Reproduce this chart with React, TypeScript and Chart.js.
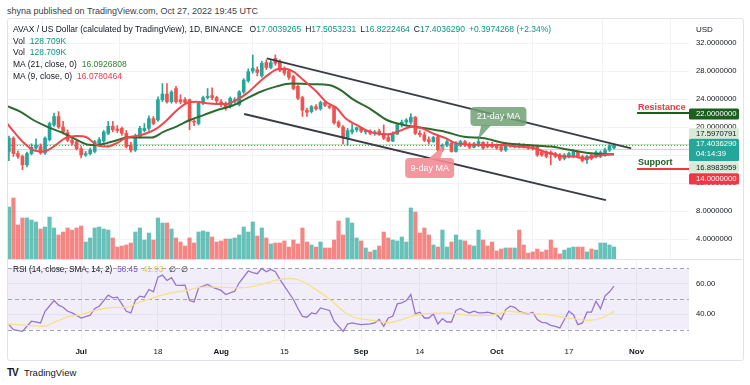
import React, { useEffect, useRef } from 'react';
import { Chart, registerables } from 'chart.js';

Chart.register(...registerables);

const FONT = '"Liberation Sans", Arial, sans-serif';

// ---------------- data ----------------
// day index: Jul 1, 2022 = 0. First candle = Jun 15, 2022
const firstDay = -16;

const opens = [
  16.5, 18.4, 16.2, 15.8, 14.6, 16.2, 17.0, 17.2, 16.3, 18.2, 20.3, 21.5, 20.0, 19.2, 18.1, 17.9,
  16.9, 16.0, 16.2, 16.5, 17.5, 18.0, 19.1, 20.1, 19.7, 19.8, 19.1, 17.4, 16.7, 18.6, 19.5, 19.8,
  21.2, 21.0, 23.9, 24.7, 23.6, 25.5, 23.9, 23.9, 23.9, 20.8, 20.5, 23.4, 24.2, 24.5, 24.2, 23.6,
  23.4, 22.9, 23.6, 23.2, 25.0, 26.6, 28.0, 28.2, 27.3, 29.2, 28.5, 29.8, 29.3, 28.4, 28.0, 27.2,
  25.8, 24.2, 22.4, 22.2, 22.9, 22.6, 23.5, 23.0, 22.9, 20.7, 20.0, 18.4, 19.3, 19.6, 19.9, 19.3,
  19.4, 19.1, 19.4, 19.1, 18.5, 18.0, 19.0, 20.3, 20.7, 20.7, 21.4, 19.1, 18.9, 18.2, 17.9, 18.6,
  16.7, 17.4, 17.7, 16.5, 17.4, 17.9, 17.5, 17.1, 17.5, 17.8, 17.5, 17.5, 17.3, 17.2, 16.7, 17.5,
  17.2, 17.5, 17.4, 17.3, 17.2, 17.2, 16.4, 16.4, 16.4, 16.2, 16.0, 15.5, 15.8, 15.8, 16.4, 15.8,
  15.3, 16.0, 15.8, 15.8, 16.0, 16.7, 17.0039265,
];
const highs = [
  18.7, 18.6, 16.6, 16.0, 16.4, 17.6, 18.3, 17.6, 18.6, 20.7, 22.0, 22.2, 20.8, 19.6, 18.6, 18.2,
  17.2, 16.5, 17.0, 18.1, 18.5, 19.5, 20.8, 20.8, 20.2, 20.0, 19.5, 17.8, 19.0, 20.1, 20.5, 21.6,
  21.5, 24.3, 26.2, 26.2, 25.2, 25.8, 24.6, 24.2, 24.0, 21.2, 23.6, 24.4, 25.5, 25.6, 24.4, 23.9,
  23.6, 24.3, 24.2, 25.2, 26.9, 28.3, 30.3, 28.6, 29.4, 29.6, 29.5, 30.3, 29.6, 28.6, 28.2, 27.4,
  26.0, 24.4, 22.7, 23.1, 23.2, 23.7, 23.8, 23.3, 23.0, 20.9, 20.2, 19.8, 20.5, 20.0, 20.0, 19.6,
  19.6, 19.5, 19.7, 20.3, 19.0, 19.3, 20.5, 21.0, 21.2, 21.9, 21.5, 19.5, 19.3, 18.6, 18.7, 18.8,
  17.6, 18.2, 17.9, 17.9, 18.1, 18.1, 17.8, 17.8, 18.6, 17.9, 17.9, 17.8, 17.6, 17.4, 17.7, 17.7,
  17.6, 17.7, 17.6, 17.5, 17.4, 17.4, 16.6, 16.6, 16.6, 16.4, 16.2, 16.2, 16.4, 16.7, 16.6, 16.0,
  16.0, 16.2, 16.6, 16.6, 17.0, 17.5, 17.5053231,
];
const lows = [
  15.2, 15.8, 15.5, 13.9, 14.3, 16.0, 16.8, 16.1, 16.1, 18.0, 20.1, 19.8, 19.0, 17.9, 17.4, 16.7,
  15.6, 15.8, 16.0, 16.3, 17.2, 17.8, 18.9, 19.3, 19.2, 18.8, 17.0, 16.4, 16.5, 18.4, 19.3, 19.5,
  20.3, 20.8, 23.6, 23.4, 23.4, 23.4, 23.3, 23.2, 19.6, 20.2, 20.3, 23.2, 24.0, 23.9, 23.4, 22.9,
  22.4, 22.7, 23.4, 23.0, 24.8, 26.4, 27.7, 27.3, 27.1, 28.2, 28.3, 28.8, 27.9, 27.4, 26.8, 25.3,
  23.9, 21.5, 21.5, 22.0, 22.4, 22.4, 22.9, 22.6, 20.4, 19.9, 17.6, 17.4, 19.0, 19.3, 19.2, 19.0,
  18.9, 18.8, 18.8, 18.2, 17.9, 17.9, 18.9, 20.0, 20.3, 20.4, 18.9, 18.6, 17.9, 17.6, 17.8, 16.5,
  16.5, 17.2, 16.4, 16.4, 17.2, 17.2, 16.9, 17.0, 17.2, 16.8, 17.0, 17.0, 16.8, 16.5, 16.5, 17.1,
  17.0, 17.0, 17.0, 16.8, 16.7, 15.8, 15.8, 15.6, 14.6, 15.6, 15.2, 15.3, 15.6, 15.6, 15.6, 15.0,
  14.8, 15.3, 15.6, 15.6, 15.8, 16.5, 16.8222464,
];
const closes = [
  18.4, 16.2, 15.8, 14.6, 16.2, 17.1, 17.4, 16.3, 18.4, 20.5, 21.5, 20.0, 19.3, 18.1, 17.7, 16.9,
  16.0, 16.2, 16.7, 17.9, 18.2, 19.3, 20.1, 19.6, 19.5, 19.1, 17.2, 16.7, 18.7, 19.8, 19.8, 21.2,
  20.5, 23.9, 24.7, 23.6, 25.0, 23.6, 23.6, 23.5, 20.8, 20.7, 23.4, 24.2, 24.4, 24.2, 23.7, 23.2,
  22.7, 24.1, 23.9, 25.0, 26.7, 27.9, 28.4, 27.8, 29.1, 28.5, 29.2, 29.1, 28.1, 27.7, 27.1, 25.5,
  24.1, 22.4, 22.1, 22.9, 22.6, 23.5, 23.1, 22.8, 20.6, 20.1, 18.4, 19.5, 19.6, 19.9, 19.4, 19.5,
  19.1, 19.3, 19.0, 18.4, 18.0, 19.0, 20.3, 20.7, 21.0, 21.4, 19.1, 18.9, 18.1, 17.9, 18.5, 16.7,
  17.4, 17.9, 16.5, 17.6, 17.9, 17.4, 17.1, 17.6, 17.9, 17.0, 17.2, 17.2, 17.0, 16.7, 17.5, 17.3,
  17.4, 17.2, 17.2, 17.0, 16.9, 16.0, 16.0, 15.8, 16.1, 15.8, 15.4, 16.0, 16.2, 16.5, 15.8, 15.2,
  15.8, 15.5, 16.4, 16.4, 16.7, 17.3, 17.403629,
];
// volume in thousands
const volumes = [
  556, 653, 364, 439, 439, 417, 396, 321, 342, 449, 332, 257, 289, 332, 310, 332,
  353, 182, 225, 332, 342, 321, 310, 225, 128, 139, 150, 171, 289, 332, 203, 278,
  203, 439, 385, 385, 321, 225, 182, 139, 225, 171, 289, 300, 289, 235, 182, 193,
  214, 214, 225, 257, 342, 289, 396, 246, 332, 225, 161, 171, 171, 193, 128, 203,
  161, 332, 182, 150, 128, 182, 118, 118, 203, 407, 257, 439, 385, 225, 193, 118,
  75, 96, 139, 289, 225, 203, 193, 235, 182, 546, 503, 278, 332, 257, 150, 128,
  310, 128, 182, 257, 203, 193, 150, 139, 310, 203, 139, 182, 86, 107, 118, 118,
  118, 310, 150, 64, 75, 107, 75, 96, 203, 118, 54, 96, 118, 128, 128, 128,
  75, 107, 96, 171, 171, 150, 128.709,
];

const ma21Days = [-16.5, -13.5, -10.6, -7.6, -4.6, -1.7, 1.3, 3.5, 5.7, 7.9, 10.1, 13, 15.6, 18.2, 21.2, 24.1, 27.1, 30, 33.7, 36.7, 39.6, 43.3, 46.6, 51.8, 54.8, 57.4, 60.3, 64, 67.7, 71.4, 74.3, 77.3, 80.7, 84.8, 89.2, 93.7, 99.6, 104, 108.4, 112.9, 115.8, 118];
const ma21Values = [23.0, 22.2, 21.0, 20.05, 19.3, 18.4, 17.5, 17.4, 17.7, 18.1, 18.5, 18.5, 18.5, 19.3, 20.1, 21.0, 21.7, 22.4, 23.1, 24.1, 25.0, 25.8, 26.2, 26.1, 26.0, 25.3, 23.9, 22.6, 21.0, 20.3, 20.0, 19.7, 19.3, 18.6, 18.4, 17.7, 17.4, 17.2, 16.7, 16.24, 16.1, 16.0926808];

const ma9Days = [-16.8, -14.6, -12.8, -10.6, -8.3, -6.1, -3.5, -1, 1.3, 3.5, 5.7, 7.9, 10.1, 12.3, 14.5, 16.75, 19, 21.2, 23.4, 25.6, 27.8, 30, 32.3, 34.5, 36.7, 39.6, 41.9, 43.7, 45.5, 47, 49.2, 52.2, 54.2, 56.6, 58.6, 61, 64, 66.2, 68.1, 70.3, 73.3, 75.5, 78.2, 80.7, 82.9, 85.5, 89.2, 93.7, 96.6, 100.3, 102.5, 104.7, 107, 109.2, 111.3, 113.6, 115.8, 118];
const ma9Values = [20.8, 19.1, 17.8, 16.7, 16.5, 17.2, 18.4, 18.7, 18.5, 17.4, 17.2, 17.7, 18.5, 18.7, 19.1, 19.8, 21.0, 22.4, 23.4, 23.6, 23.4, 23.3, 23.3, 23.9, 24.8, 26.5, 27.7, 28.3, 28.3, 27.9, 26.7, 25.0, 23.6, 22.7, 21.2, 20.3, 19.3, 19.0, 18.95, 19.4, 20.05, 19.8, 19.0, 18.4, 17.7, 17.5, 17.43, 17.43, 17.2, 16.95, 16.5, 16.1, 15.8, 15.8, 15.5, 15.8, 16.0, 16.0780464];

const rsiDays = [-16, -15, -13, -12, -11, -9, -8, -6, -5, -4, -3, -2, 0, 2, 3, 4, 6, 7, 8, 9, 10, 11, 12, 13, 14, 15, 16, 17, 18, 19, 20, 21, 22, 23, 24, 25, 26, 28, 29, 31, 32, 34, 35, 37, 38, 39, 40, 41, 42, 43, 44, 45, 47, 48, 49, 50, 51, 52, 53, 55, 56, 58, 59, 60, 61, 62, 64, 65, 66, 67, 68, 69, 70, 71, 72, 73, 74, 75, 76, 77, 78, 79, 80, 81, 82, 83, 84, 85, 86, 87, 88, 89, 90, 92, 93, 94, 95, 96, 97, 98, 99, 100, 101, 102, 103, 104, 105, 106, 108, 109, 110, 111, 112, 113, 114, 115, 116, 117, 118];
const rsiValues = [33.3, 30, 28.9, 32.2, 35.5, 34.4, 42, 49, 46, 44.6, 42, 40.9, 37.6, 39.4, 43.8, 45.3, 52.5, 50.8, 51.2, 46.8, 42, 40.9, 49, 51.9, 51.2, 56.2, 54.7, 64.3, 65.6, 62.1, 63.9, 59.1, 58.9, 59.1, 49, 48.1, 57.3, 59.5, 57.8, 55.6, 52.9, 55.1, 60.6, 68.3, 67.2, 66.5, 70, 67.8, 69.3, 67.8, 62.8, 58.4, 49.7, 43.8, 38.7, 38.1, 40.9, 40.3, 44.2, 42.5, 35.5, 28.9, 33.7, 34.4, 33.7, 33.3, 33.7, 34.4, 36.6, 32.2, 37.6, 38.7, 46.8, 47.5, 49, 52.9, 40.3, 41.4, 37.6, 37.6, 40.3, 33.7, 37.2, 35, 35, 42.5, 43.8, 42, 40.9, 42, 40.9, 40.9, 41.4, 39.8, 36.6, 43.1, 45.3, 44.6, 42, 40.9, 40.3, 41.4, 36.6, 34.8, 34.4, 32.8, 32.2, 31.1, 42, 39.8, 33.3, 34.4, 41.4, 41.4, 48.6, 43.6, 51.9, 54.7, 58.45];

const rsiSmaDays = [-16.3, -12, -8.3, -5.4, -3.2, -0.2, 2.4, 4.9, 7.9, 10.1, 13.1, 16, 19, 23.4, 27.1, 30, 33.7, 37.4, 41.1, 44.1, 46.6, 48.5, 51.4, 55.1, 58.1, 60.3, 63.2, 65.1, 68, 71, 74, 76.9, 79.9, 82.8, 85.8, 88.7, 91.7, 94.6, 97.6, 100.5, 103.5, 106.4, 109.4, 112.3, 115.3, 118];
const rsiSmaValues = [33.7, 32.8, 32.2, 35.5, 38.1, 39.8, 42, 43.8, 44.6, 44.6, 48.1, 50.8, 53.4, 55.6, 57.8, 57.8, 57.3, 57.8, 60.6, 62.8, 63.4, 62.1, 57.3, 49.7, 42, 38.1, 36.6, 35.9, 34.4, 36.6, 39.4, 40.5, 40.9, 40.5, 39.4, 39.2, 39.8, 42, 40.9, 40.3, 39.8, 38.1, 37, 36.1, 37.6, 41.93];

const tickDays = [0, 17, 31, 45, 62, 75, 92, 108, 123];
const tickLabels = ['Jul', '18', 'Aug', '15', 'Sep', '14', 'Oct', '17', 'Nov'];
const tickBold = [true, false, true, false, true, false, true, false, true];
const priceTicks = [4, 8, 12, 16, 20, 24, 28, 32];
const rsiTicks = [40, 60];

const upperChannelDays = [41.1, 121.8];
const upperChannelPrices = [29.8, 16.95];
const lowerChannelDays = [36.1, 116.2];
const lowerChannelPrices = [21.85, 9.55];

const resistanceLevel = 22;
const supportLevel = 14;
const lastClose = 17.403629;
const upperMark = 17.5970791;
const lowerMark = 16.8983959;

// ---------------- layout constants ----------------
const X_MIN = -16.2;
const X_MAX = 134.6;
const PX_PER_PRICE = 7;
const PRICE_H = 240;
const P_MAX = 32 + 24 / PX_PER_PRICE;
const P_MIN = P_MAX - PRICE_H / PX_PER_PRICE;
const VOL_MAX = 2568;
const R_MAX = 75.48;
const R_MIN = 23.23;

const UP = '#26a69a';
const DOWN = '#ef5350';
const GRID = '#f0f2f6';

const candleDays = opens.map((_, i) => firstDay + i);
const isUp = opens.map((o, i) => closes[i] >= o);

function roundBox(ctx: any, x: number, y: number, w: number, h: number, r: number, fill: string) {
  ctx.beginPath();
  ctx.roundRect(x, y, w, h, r);
  ctx.fillStyle = fill;
  ctx.fill();
}

const priceOverlay = {
  id: 'priceOverlay',
  beforeDatasetsDraw(chart: any) {
    const { ctx, chartArea: a, scales } = chart;
    const y = scales.y;
    ctx.save();
    ctx.lineWidth = 1;
    ctx.strokeStyle = 'rgba(76,175,80,0.35)';
    [upperMark, lowerMark].forEach((v) => {
      const py = Math.round(y.getPixelForValue(v)) + 0.5;
      ctx.beginPath();
      ctx.moveTo(a.left, py);
      ctx.lineTo(a.right, py);
      ctx.stroke();
    });
    ctx.setLineDash([1, 2]);
    ctx.strokeStyle = UP;
    const pc = Math.round(y.getPixelForValue(lastClose)) + 0.5;
    ctx.beginPath();
    ctx.moveTo(a.left, pc);
    ctx.lineTo(a.right, pc);
    ctx.stroke();
    ctx.restore();
  },
  afterDatasetsDraw(chart: any) {
    const { ctx, scales } = chart;
    const x = scales.x;
    const y = scales.y;
    const X = (d: number) => x.getPixelForValue(d);
    const Y = (p: number) => y.getPixelForValue(p);
    ctx.save();
    // Resistance / Support
    ctx.font = `bold 9px ${FONT}`;
    ctx.textBaseline = 'alphabetic';
    ctx.textAlign = 'left';
    ctx.fillStyle = '#f23645';
    ctx.fillText('Resistance', X(123.3), Y(resistanceLevel) - 3);
    ctx.fillStyle = '#1b5e20';
    ctx.fillText('Support', X(123.3), Y(supportLevel) - 4.5);

    // callouts
    const callout = (l: number, r: number, t: number, b: number, b1: number, b2: number, baseP: number, tipD: number, tipP: number, color: string, label: string) => {
      const L = X(l), R = X(r), T = Y(t), B = Y(b);
      ctx.fillStyle = color;
      ctx.beginPath();
      ctx.moveTo(X(b1), Y(baseP));
      ctx.lineTo(X(tipD), Y(tipP));
      ctx.lineTo(X(b2), Y(baseP));
      ctx.closePath();
      ctx.fill();
      roundBox(ctx, L, T, R - L, B - T, 4, color);
      ctx.fillStyle = '#ffffff';
      ctx.font = `9px ${FONT}`;
      ctx.textAlign = 'center';
      ctx.textBaseline = 'middle';
      ctx.fillText(label, (L + R) / 2, (T + B) / 2 + 0.5);
    };
    callout(86.2, 98.6, 22.86, 20.14, 88.6, 90.8, 20.3, 87.9, 18.2, 'rgba(112,160,116,0.85)', '21-day MA');
    callout(71.74, 82.6, 15.57, 12.71, 76.8, 79.5, 15.4, 80.6, 17.57, 'rgba(243,140,148,0.9)', '9-day MA');
    ctx.restore();
  },
  afterDraw(chart: any) {
    const { ctx, chartArea: a, scales } = chart;
    const y = scales.y;
    const left = a.right;
    const w = 50;
    const tx = left + 7;
    ctx.save();
    ctx.font = `7.7px ${FONT}`;
    ctx.textAlign = 'left';
    ctx.textBaseline = 'middle';
    const label = (top: number, h: number, bg: string, fg: string, lines: string[]) => {
      roundBox(ctx, left, top, w, h, 1.5, bg);
      ctx.fillStyle = fg;
      lines.forEach((s, i) => ctx.fillText(s, tx, top + 5.5 + i * 10));
    };
    const r = y.getPixelForValue(resistanceLevel) + 1;
    label(r - 5.5, 11, '#1b5e20', '#ffffff', [resistanceLevel.toFixed(7)]);
    const c = y.getPixelForValue(lastClose);
    const cTop = c - 6.5;
    const cH = 22.5;
    label(cTop - 10.5, 10.5, '#d9ead7', '#131722', [upperMark.toFixed(7)]);
    label(cTop, cH, UP, '#ffffff', [lastClose.toFixed(7), '04:14:39']);
    label(cTop + cH + 1, 10.5, '#d9ead7', '#131722', [lowerMark.toFixed(7)]);
    label(cTop + cH + 12, 11.3, '#f23645', '#ffffff', [supportLevel.toFixed(7)]);
    ctx.restore();
  },
};

const rsiOverlay = {
  id: 'rsiOverlay',
  beforeDatasetsDraw(chart: any) {
    const { ctx, chartArea: a, scales } = chart;
    const y = scales.y;
    const y70 = y.getPixelForValue(70);
    const y30 = y.getPixelForValue(30);
    ctx.save();
    ctx.fillStyle = 'rgba(126,87,194,0.1)';
    ctx.fillRect(a.left, y70, a.right - a.left, y30 - y70);
    ctx.strokeStyle = '#a3a6af';
    ctx.lineWidth = 1;
    ctx.setLineDash([4, 3]);
    [70, 50, 30].forEach((v) => {
      const py = Math.round(y.getPixelForValue(v)) + 0.5;
      ctx.beginPath();
      ctx.moveTo(a.left, py);
      ctx.lineTo(a.right, py);
      ctx.stroke();
    });
    ctx.restore();
  },
};

function pts(days: number[], vals: number[]) {
  return days.map((d, i) => ({ x: d, y: vals[i] }));
}

export default function App() {
  const priceRef = useRef<HTMLCanvasElement>(null);
  const rsiRef = useRef<HTMLCanvasElement>(null);

  useEffect(() => {
    const candleColors = isUp.map((u) => (u ? UP : DOWN));
    const volColors = isUp.map((u) => (u ? 'rgba(38,166,154,0.7)' : 'rgba(239,83,80,0.7)'));
    const xScaleBase: any = {
      type: 'linear',
      min: X_MIN,
      max: X_MAX,
      offset: false,
      afterBuildTicks: (s: any) => {
        s.ticks = tickDays.map((v) => ({ value: v }));
      },
      grid: { color: GRID, drawTicks: false },
      border: { display: false },
    };

    const price = new Chart(priceRef.current as HTMLCanvasElement, {
      type: 'bar',
      data: {
        datasets: [
          {
            type: 'bar',
            label: 'Volume',
            data: volumes.map((v, i) => ({ x: candleDays[i], y: v })) as any,
            yAxisID: 'yVol',
            backgroundColor: volColors,
            barThickness: 3.5,
            grouped: false,
            order: 10,
          } as any,
          {
            type: 'bar',
            label: 'Wick',
            data: lows.map((l, i) => ({ x: candleDays[i], y: [l, highs[i]] })) as any,
            yAxisID: 'y',
            backgroundColor: candleColors,
            barThickness: 1,
            grouped: false,
            order: 7,
          } as any,
          {
            type: 'bar',
            label: 'Body',
            data: opens.map((o, i) => ({ x: candleDays[i], y: [o, closes[i]] })) as any,
            yAxisID: 'y',
            backgroundColor: candleColors,
            barThickness: 3,
            minBarLength: 1,
            grouped: false,
            order: 6,
          } as any,
          {
            type: 'line',
            label: 'MA 21',
            data: pts(ma21Days, ma21Values) as any,
            yAxisID: 'y',
            borderColor: '#2e6b30',
            borderWidth: 2,
            pointRadius: 0,
            cubicInterpolationMode: 'monotone',
            order: 4,
          } as any,
          {
            type: 'line',
            label: 'MA 9',
            data: pts(ma9Days, ma9Values) as any,
            yAxisID: 'y',
            borderColor: '#f0474f',
            borderWidth: 2,
            pointRadius: 0,
            cubicInterpolationMode: 'monotone',
            order: 3,
          } as any,
          {
            type: 'line',
            label: 'Upper channel',
            data: pts(upperChannelDays, upperChannelPrices) as any,
            yAxisID: 'y',
            borderColor: '#3a3d46',
            borderWidth: 2,
            pointRadius: 0,
            order: 2,
          } as any,
          {
            type: 'line',
            label: 'Lower channel',
            data: pts(lowerChannelDays, lowerChannelPrices) as any,
            yAxisID: 'y',
            borderColor: '#3a3d46',
            borderWidth: 2,
            pointRadius: 0,
            order: 2,
          } as any,
          {
            type: 'line',
            label: 'Resistance',
            data: [{ x: 123.1, y: resistanceLevel }, { x: X_MAX, y: resistanceLevel }] as any,
            yAxisID: 'y',
            borderColor: '#1b5e20',
            borderWidth: 2,
            pointRadius: 0,
            order: 1,
          } as any,
          {
            type: 'line',
            label: 'Support',
            data: [{ x: 123.1, y: supportLevel }, { x: X_MAX, y: supportLevel }] as any,
            yAxisID: 'y',
            borderColor: '#f23645',
            borderWidth: 2,
            pointRadius: 0,
            order: 1,
          } as any,
        ],
      },
      options: {
        animation: false,
        responsive: false,
        maintainAspectRatio: false,
        layout: { padding: { left: 8, right: 0, top: 0, bottom: 0 } },
        plugins: { legend: { display: false }, tooltip: { enabled: false } },
        scales: {
          x: {
            ...xScaleBase,
            ticks: { display: false },
            afterFit: (s: any) => {
              s.height = 0;
              s.paddingLeft = 0;
              s.paddingRight = 0;
            },
          },
          y: {
            type: 'linear',
            position: 'right',
            min: P_MIN,
            max: P_MAX,
            afterBuildTicks: (s: any) => {
              s.ticks = priceTicks.map((v) => ({ value: v }));
            },
            ticks: {
              padding: 7,
              color: '#131722',
              font: { size: 7.7, family: FONT },
              callback: (v: any) => Number(v).toFixed(7),
            },
            grid: { color: GRID, drawTicks: false },
            border: { display: false },
            afterFit: (s: any) => {
              s.width = 61;
              s.paddingTop = 0;
              s.paddingBottom = 0;
            },
          },
          yVol: { type: 'linear', display: false, min: 0, max: VOL_MAX },
        },
      } as any,
      plugins: [priceOverlay],
    });

    const rsi = new Chart(rsiRef.current as HTMLCanvasElement, {
      type: 'line',
      data: {
        datasets: [
          {
            label: 'RSI SMA',
            data: pts(rsiSmaDays, rsiSmaValues) as any,
            borderColor: '#f6e08a',
            borderWidth: 1.3,
            pointRadius: 0,
            cubicInterpolationMode: 'monotone',
          } as any,
          {
            label: 'RSI',
            data: pts(rsiDays, rsiValues) as any,
            borderColor: '#9575cd',
            borderWidth: 1.3,
            pointRadius: 0,
          } as any,
        ],
      },
      options: {
        animation: false,
        responsive: false,
        maintainAspectRatio: false,
        layout: { padding: { left: 8, right: 0, top: 0, bottom: 0 } },
        plugins: { legend: { display: false }, tooltip: { enabled: false } },
        scales: {
          x: {
            ...xScaleBase,
            ticks: {
              autoSkip: false,
              maxRotation: 0,
              padding: 7,
              color: '#131722',
              font: (c: any) => ({ size: 8, family: FONT, weight: tickBold[c.index] ? 'bold' : 'normal' }),
              callback: (_v: any, i: number) => tickLabels[i],
            },
            afterFit: (s: any) => {
              s.height = 20;
              s.paddingLeft = 0;
              s.paddingRight = 0;
            },
          },
          y: {
            type: 'linear',
            position: 'right',
            min: R_MIN,
            max: R_MAX,
            afterBuildTicks: (s: any) => {
              s.ticks = rsiTicks.map((v) => ({ value: v }));
            },
            ticks: {
              padding: 7,
              color: '#131722',
              font: { size: 7.7, family: FONT },
              callback: (v: any) => Number(v).toFixed(2),
            },
            grid: { color: GRID, drawTicks: false },
            border: { display: false },
            afterFit: (s: any) => {
              s.width = 61;
              s.paddingTop = 0;
              s.paddingBottom = 0;
            },
          },
        },
      } as any,
      plugins: [rsiOverlay],
    });

    return () => {
      price.destroy();
      rsi.destroy();
    };
  }, []);

  const base: any = { position: 'absolute', fontFamily: FONT, whiteSpace: 'nowrap', color: '#131722' };
  const teal = { color: '#089981' };

  return (
    <div style={{ position: 'absolute', left: 0, top: 0, width: 750, height: 385, background: '#ffffff', overflow: 'hidden' }}>
      <div style={{ ...base, left: 7, top: 6, fontSize: 9, lineHeight: '10px', color: '#3d4049' }}>
        shyna published on TradingView.com, Oct 27, 2022 19:45 UTC
      </div>
      <div style={{ position: 'absolute', left: 7, top: 18, width: 735, height: 341, border: '1px solid #e0e3eb', borderRadius: 3 }} />
      <div style={{ position: 'absolute', left: 8, top: 259, width: 734, height: 1, background: '#e0e3eb' }} />
      <canvas ref={priceRef} width={750} height={240} style={{ position: 'absolute', left: 0, top: 19, width: 750, height: 240 }} />
      <canvas ref={rsiRef} width={750} height={100} style={{ position: 'absolute', left: 0, top: 260, width: 750, height: 100 }} />

      <div style={{ ...base, left: 13, top: 25, fontSize: 8.5, lineHeight: '9px' }}>
        AVAX / US Dollar (calculated by TradingView), 1D, BINANCE
        <span style={{ marginLeft: 7 }}>O</span><span style={teal}>17.0039265</span>
        <span style={{ marginLeft: 4 }}>H</span><span style={teal}>17.5053231</span>
        <span style={{ marginLeft: 4 }}>L</span><span style={teal}>16.8222464</span>
        <span style={{ marginLeft: 4 }}>C</span><span style={teal}>17.4036290</span>
        <span style={{ ...teal, marginLeft: 4 }}>+0.3974268 (+2.34%)</span>
      </div>
      <div style={{ ...base, left: 13, top: 36.5, fontSize: 8.5, lineHeight: '9px' }}>
        Vol<span style={{ ...teal, marginLeft: 5 }}>128.709K</span>
      </div>
      <div style={{ ...base, left: 13, top: 48, fontSize: 8.5, lineHeight: '9px' }}>
        Vol<span style={{ ...teal, marginLeft: 5 }}>128.709K</span>
      </div>
      <div style={{ ...base, left: 13, top: 59.5, fontSize: 8.5, lineHeight: '9px' }}>
        MA (21, close, 0)<span style={{ color: '#2e7d32', marginLeft: 5 }}>16.0926808</span>
      </div>
      <div style={{ ...base, left: 13, top: 71.5, fontSize: 8.5, lineHeight: '9px' }}>
        MA (9, close, 0)<span style={{ color: '#f23645', marginLeft: 5 }}>16.0780464</span>
      </div>
      <div style={{ ...base, left: 696, top: 25, fontSize: 8, lineHeight: '9px' }}>USD</div>

      <div style={{ ...base, left: 13, top: 265, fontSize: 8.2, lineHeight: '9px' }}>
        RSI (14, close, SMA, 14, 2)
        <span style={{ color: '#7e57c2', marginLeft: 5 }}>58.45</span>
        <span style={{ color: '#e8c93a', marginLeft: 5 }}>41.93</span>
        <span style={{ marginLeft: 6 }}>∅</span>
        <span style={{ marginLeft: 5 }}>∅</span>
      </div>

      <div style={{ ...base, left: 7, top: 367, fontSize: 10, lineHeight: '11px', fontWeight: 900, letterSpacing: -1 }}>TV</div>
      <div style={{ ...base, left: 24, top: 367, fontSize: 9.5, lineHeight: '11px', color: '#131722' }}>TradingView</div>
    </div>
  );
}
